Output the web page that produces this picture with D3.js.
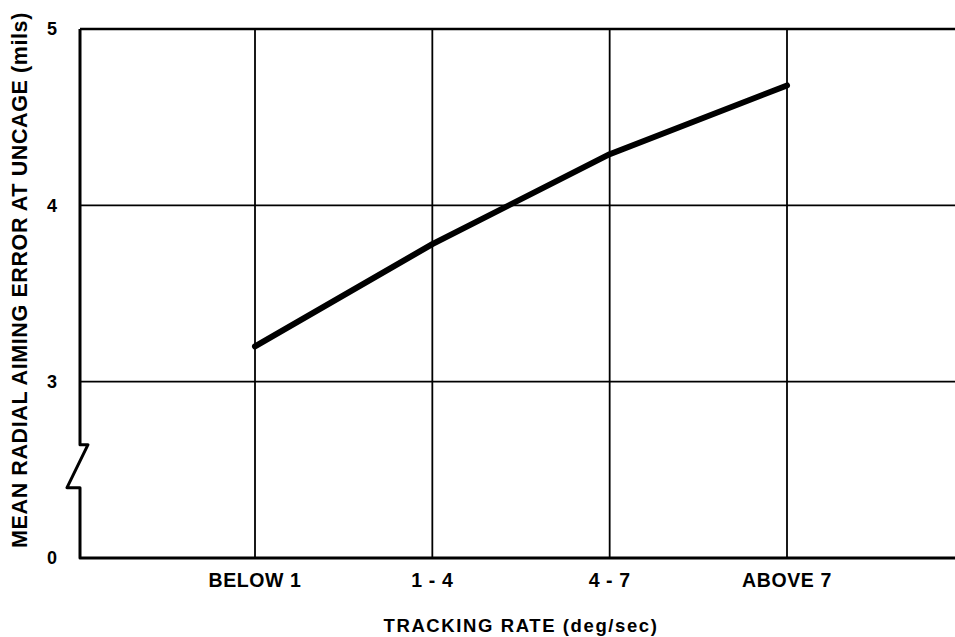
<!DOCTYPE html>
<html>
<head>
<meta charset="utf-8">
<script src="https://cdn.jsdelivr.net/npm/d3@7/dist/d3.min.js"></script>
<style>
  html, body { margin: 0; padding: 0; background: #fff; }
  svg { display: block; }
  text { font-family: "Liberation Sans", Arial, sans-serif; font-weight: bold; fill: #000; }
</style>
</head>
<body>
<svg id="chart" width="955" height="637"></svg>
<script>
// ---- data ----
const categories = ["BELOW 1", "1 - 4", "4 - 7", "ABOVE 7"];
const errorValues = [3.20, 3.78, 4.29, 4.68];
const yTickValues = [2, 3, 4, 5];          // 2 is drawn as the broken-axis origin
const yTickLabels = ["0", "3", "4", "5"];
const xTitle = "TRACKING RATE (deg/sec)";
const yTitle = "MEAN RADIAL AIMING ERROR AT UNCAGE (mils)";

// ---- layout ----
const plotLeft = 80, plotRight = 955, plotTop = 29, plotBottom = 558;

const svg = d3.select("#chart");

const x = d3.scalePoint().domain(categories).range([255, 787]);
const y = d3.scaleLinear().domain([2, 5]).range([plotBottom, plotTop]);

// horizontal grid lines (3, 4)
svg.append("g").selectAll("line")
  .data([3, 4])
  .join("line")
  .attr("x1", plotLeft).attr("x2", plotRight)
  .attr("y1", d => y(d)).attr("y2", d => y(d))
  .attr("stroke", "#000").attr("stroke-width", 1.8);

// top border (5)
svg.append("line")
  .attr("x1", plotLeft).attr("x2", plotRight)
  .attr("y1", y(5)).attr("y2", y(5))
  .attr("stroke", "#000").attr("stroke-width", 2.6);

// vertical grid lines at categories
svg.append("g").selectAll("line")
  .data(categories)
  .join("line")
  .attr("x1", d => x(d)).attr("x2", d => x(d))
  .attr("y1", plotTop).attr("y2", plotBottom)
  .attr("stroke", "#000").attr("stroke-width", 1.8);

// left axis with break, and bottom axis
const breakTop = y(3) + 63, breakBot = y(3) + 106;
const p = d3.path();
p.moveTo(plotLeft, y(5));
p.lineTo(plotLeft, breakTop);
p.lineTo(plotLeft + 8, breakTop);
p.lineTo(plotLeft - 13, breakBot);
p.lineTo(plotLeft, breakBot);
p.lineTo(plotLeft, plotBottom);
p.lineTo(plotRight, plotBottom);
svg.append("path")
  .attr("d", p.toString())
  .attr("fill", "none")
  .attr("stroke", "#000")
  .attr("stroke-width", 3)
  .attr("stroke-linejoin", "round");

// data line
const line = d3.line()
  .x((d, i) => x(categories[i]))
  .y(d => y(d));
svg.append("path")
  .datum(errorValues)
  .attr("d", line)
  .attr("fill", "none")
  .attr("stroke", "#000")
  .attr("stroke-width", 6)
  .attr("stroke-linecap", "round")
  .attr("stroke-linejoin", "round");

// y tick labels
svg.append("g").selectAll("text")
  .data(yTickValues)
  .join("text")
  .attr("x", 52)
  .attr("y", d => y(d))
  .attr("dy", "0.36em")
  .attr("text-anchor", "middle")
  .style("font-size", "18px")
  .text((d, i) => yTickLabels[i]);

// x tick labels
svg.append("g").selectAll("text")
  .data(categories)
  .join("text")
  .attr("x", d => x(d))
  .attr("y", 587)
  .attr("text-anchor", "middle")
  .style("font-size", "19.5px")
  .style("letter-spacing", "0.6px")
  .text(d => d);

// axis titles
svg.append("text")
  .attr("x", 521)
  .attr("y", 632)
  .attr("text-anchor", "middle")
  .style("font-size", "18.5px")
  .style("letter-spacing", "1.6px")
  .text(xTitle);

svg.append("text")
  .attr("transform", "translate(27,280) rotate(-90)")
  .attr("text-anchor", "middle")
  .style("font-size", "21.5px")
  .style("letter-spacing", "0.6px")
  .text(yTitle);
</script>
</body>
</html>
